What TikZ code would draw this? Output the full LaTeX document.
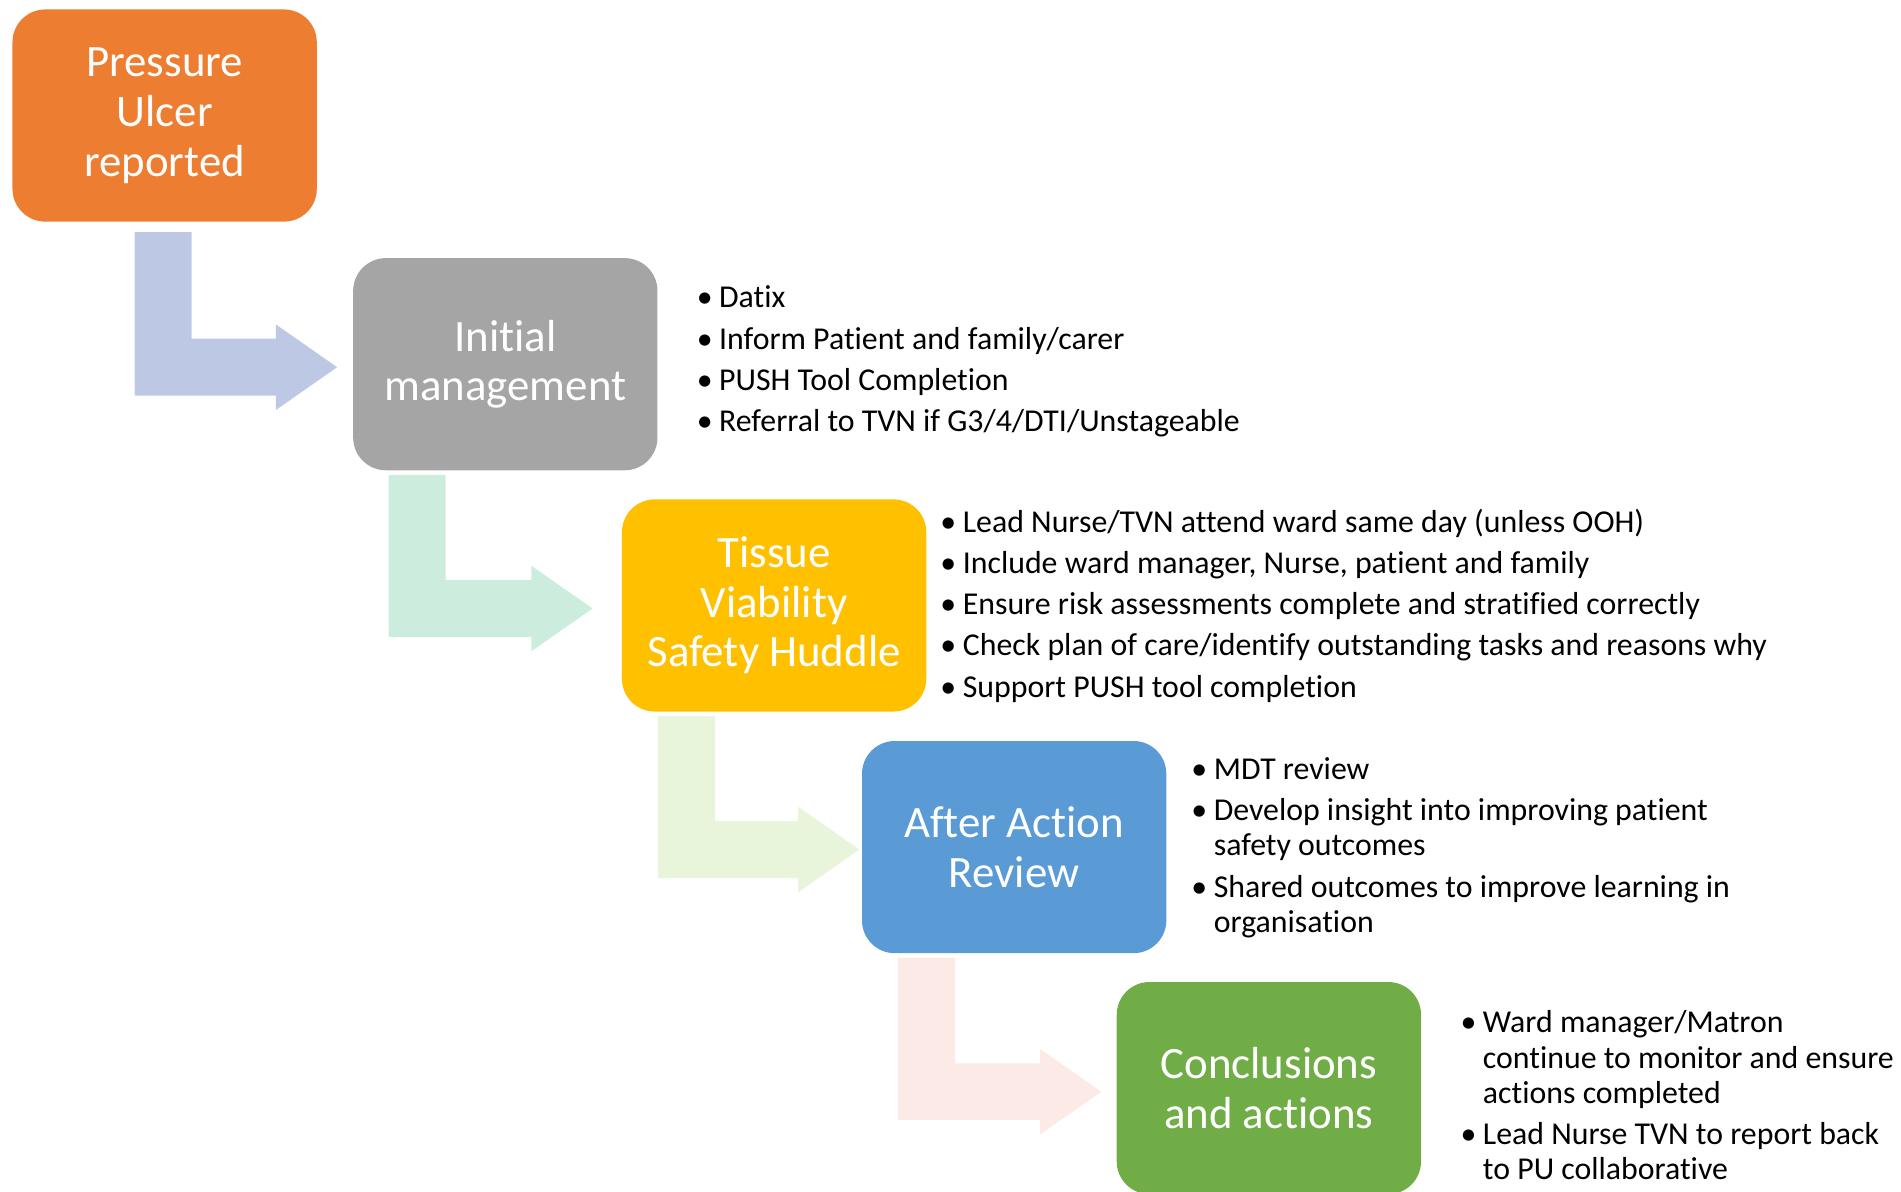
\documentclass[tikz,border=0pt]{standalone}
\usepackage{fontspec}
\setmainfont{Carlito}[Ligatures=NoCommon, RawFeature={-liga;-clig;-calt;-dlig}]
\usetikzlibrary{calc}

\definecolor{puOrange}{HTML}{ED7D31}
\definecolor{puGrey}{HTML}{A5A5A5}
\definecolor{puGold}{HTML}{FFC000}
\definecolor{puBlue}{HTML}{5B9BD5}
\definecolor{puGreen}{HTML}{70AD47}
\definecolor{arrBlue}{HTML}{BDC9E4}
\definecolor{arrMint}{HTML}{CCEDDE}
\definecolor{arrLime}{HTML}{E8F5DA}
\definecolor{arrPink}{HTML}{FBEAE5}

% bullet list helpers
\newcommand\bitem[1]{\makebox[18.5pt][l]{\textbullet}#1}
\newcommand\bcont[1]{\hspace*{18.5pt}#1}

% bent block arrow: #1 top-left of the shaft, #2 tip, #3 fill colour
\newcommand\bentarrow[3]{%
  \fill[#3] let \p1=(#1), \p2=(#2) in
    (\x1,\y1) -- (\x1+47pt,\y1) -- (\x1+47pt,\y2+23.5pt)
    -- (\x2-50.5pt,\y2+23.5pt) -- (\x2-50.5pt,\y2+35.25pt) -- (\x2,\y2)
    -- (\x2-50.5pt,\y2-35.25pt) -- (\x2-50.5pt,\y2-23.5pt)
    -- (\x1,\y2-23.5pt) -- cycle;}

\begin{document}
\begin{tikzpicture}[x=1pt,y=1pt,
  stage/.style={rounded corners=27pt, minimum width=251pt, minimum height=175pt,
    inner sep=0pt, align=center, text=white,
    font=\fontsize{37}{41}\selectfont},
  notes/.style={anchor=base west, inner sep=0pt, align=left, text=black,
    font=\fontsize{26.25}{29}\selectfont}]
\useasboundingbox (0,0) rectangle (1568,983);

% process stages
\node[stage, fill=puOrange] (b1) at (135.8,887.7) {Pressure\\Ulcer\\reported};
\node[stage, fill=puGrey]   (b2) at (416.8,682.6) {Initial\\management};
\node[stage, fill=puGold]   (b3) at (638.5,483.6) {Tissue\\Viability\\Safety Huddle};
\node[stage, fill=puBlue]   (b4) at (836.5,284.3) {After Action\\Review};
\node[stage, fill=puGreen]  (b5) at (1046.6,85.5) {Conclusions\\and actions};

% arrow end points
\coordinate (a1s) at ($(b1.south west)+(101,-8.5)$);
\coordinate (a1t) at ($(b2.west)+(-13,-2.5)$);
\coordinate (a2s) at ($(b2.south west)+(29.5,-3.5)$);
\coordinate (a2t) at ($(b3.west)+(-24,-2.5)$);
\coordinate (a3s) at ($(b3.south west)+(30,-3.5)$);
\coordinate (a3t) at ($(b4.west)+(-2,-2)$);
\coordinate (a4s) at ($(b4.south west)+(30,-3.5)$);
\coordinate (a4t) at ($(b5.west)+(-12.5,-3)$);

\bentarrow{a1s}{a1t}{arrBlue}
\bentarrow{a2s}{a2t}{arrMint}
\bentarrow{a3s}{a3t}{arrLime}
\bentarrow{a4s}{a4t}{arrPink}

% notes beside each stage (anchored on the baseline of the last line)
\node[notes] (n2) at (574.5,627) {\bitem{Datix}\\[5pt]
  \bitem{Inform Patient and family/carer}\\[5pt]
  \bitem{PUSH Tool Completion}\\[5pt]
  \bitem{Referral to TVN if G3/4/DTI/Unstageable}};

\node[notes] (n3) at (775.5,408) {\bitem{Lead Nurse/TVN attend ward same day (unless OOH)}\\[5pt]
  \bitem{Include ward manager, Nurse, patient and family}\\[5pt]
  \bitem{Ensure risk assessments complete and stratified correctly}\\[5pt]
  \bitem{Check plan of care/identify outstanding tasks and reasons why}\\[5pt]
  \bitem{Support PUSH tool completion}};

\node[notes] (n4) at (982.5,214) {\bitem{MDT review}\\[5pt]
  \bitem{Develop insight into improving patient}\\
  \bcont{safety outcomes}\\[5pt]
  \bitem{Shared outcomes to improve learning in}\\
  \bcont{organisation}};

\node[notes] (n5) at (1204.5,10) {\bitem{Ward manager/Matron}\\
  \bcont{continue to monitor and ensure}\\
  \bcont{actions completed}\\[5pt]
  \bitem{Lead Nurse TVN to report back}\\
  \bcont{to PU collaborative}};
\end{tikzpicture}
\end{document}
